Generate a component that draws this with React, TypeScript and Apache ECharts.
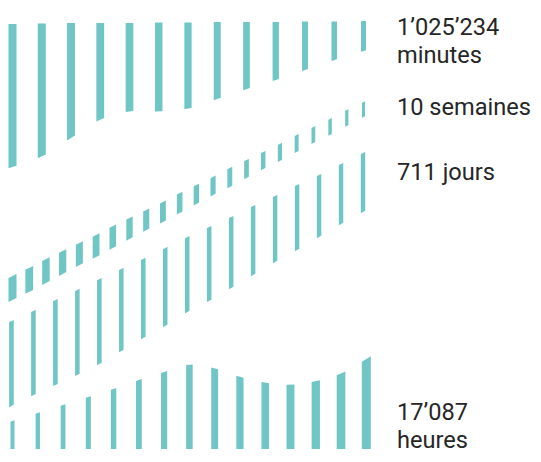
import React, { useEffect, useRef } from "react";
import * as echarts from "echarts";

// Heights (0 = common baseline of the "heures" bars)
const minutesTop = [425, 425.5, 426, 426, 426, 426.5, 426.5, 427, 427, 427, 427.5, 427.5, 428];
const minutesBottom = [282, 292, 311, 330, 338, 337.5, 340, 350, 360, 369, 379, 389, 398];

const semainesTop = [173, 181, 190, 198, 206, 214, 223, 231, 239, 247, 256, 264, 272, 281, 289, 297, 305, 314, 322, 330, 339, 347];
const semainesBottom = [149, 157, 166, 175, 184, 192, 201, 210, 219, 227, 236, 245, 254, 262, 271, 280, 288, 297, 306, 314, 323, 332];

const joursTop = [128, 138, 149, 159, 170, 180, 190, 201, 212, 222, 232, 243, 253, 264, 274, 285, 296];
const joursBottom = [43, 54, 64, 74, 85, 98, 111, 123, 137, 148, 161, 174, 187, 199, 212, 225, 237];

const heuresTop = [28, 36, 44, 52, 60, 69, 77, 85, 81, 72, 66, 64, 67.5, 75, 90];
const heuresBottom = [0, 0, 0, 0, 0, 0, 0, 0, 0, 0, 0, 0, 0, 0, 0];

const labelLines = ["1\u2019025\u2019234", "minutes", "10 semaines", "711 jours", "17\u2019087", "heures"];

// Layout / style (not data)
const BAR_COLOR = "#6fc6c5";
const TEXT_COLOR = "#262626";
const labelY = [27, 55, 107, 172, 412, 440];
const bandLayout = {
  minutes: { x0: 0, x1: 1, w0: 8, w1: 5, pow: 2 },
  semaines: { x0: 0, x1: 1, w0: 8, w1: 3, pow: 1 },
  jours: { x0: -0.003, x1: 0.9986, w0: 4.6, w1: 4.4, pow: 1 },
  heures: { x0: 0, x1: 1.008, w0: 4, w1: 9, pow: 1 },
};

function bandSeries(name: string, top: number[], bottom: number[], layout: any) {
  const n = top.length;
  const data = top.map((t, i) => [layout.x0 + ((layout.x1 - layout.x0) * i) / (n - 1), t, bottom[i]]);
  return {
    type: "custom",
    name,
    data,
    clip: false,
    silent: true,
    encode: { x: 0, y: [1, 2] },
    renderItem: (params: any, api: any) => {
      const i = params.dataIndex;
      const pt = (k: number, which: number) => api.coord([data[k][0], data[k][which]]);
      const t = n > 1 ? i / (n - 1) : 0;
      const w = layout.w0 + (layout.w1 - layout.w0) * Math.pow(t, layout.pow);
      const edge = (which: number) => {
        const c = pt(i, which);
        const prev = i > 0 ? pt(i - 1, which) : null;
        const next = i < n - 1 ? pt(i + 1, which) : null;
        const sl = prev ? (c[1] - prev[1]) / (c[0] - prev[0]) : (next[1] - c[1]) / (next[0] - c[0]);
        const sr = next ? (next[1] - c[1]) / (next[0] - c[0]) : sl;
        return [
          [c[0] - w / 2, c[1] - (sl * w) / 2],
          [c[0] + w / 2, c[1] + (sr * w) / 2],
        ];
      };
      const [tl, tr] = edge(1);
      const [bl, br] = edge(2);
      return {
        type: "polygon",
        shape: { points: [tl, tr, br, bl] },
        style: { fill: BAR_COLOR },
      };
    },
  };
}

export default function App() {
  const ref = useRef<HTMLDivElement>(null);
  useEffect(() => {
    if (!ref.current) return;
    const chart = echarts.init(ref.current, undefined, { renderer: "svg" });
    chart.setOption({
      animation: false,
      grid: { left: 12.5, width: 351, top: 0, height: 449 },
      xAxis: { type: "value", min: 0, max: 1, show: false },
      yAxis: { type: "value", min: 0, max: 449, show: false },
      series: [
        bandSeries("minutes", minutesTop, minutesBottom, bandLayout.minutes),
        bandSeries("semaines", semainesTop, semainesBottom, bandLayout.semaines),
        bandSeries("jours", joursTop, joursBottom, bandLayout.jours),
        bandSeries("heures", heuresTop, heuresBottom, bandLayout.heures),
      ],
      graphic: labelLines.map((txt, k) => ({
        type: "text",
        x: 397,
        y: labelY[k],
        silent: true,
        style: {
          text: txt,
          fontFamily: "Roboto",
          fontSize: 23.6,
          fill: TEXT_COLOR,
          verticalAlign: "middle",
          align: "left",
        },
      })),
    });
    return () => chart.dispose();
  }, []);
  return (
    <div
      ref={ref}
      style={{ position: "fixed", left: 0, top: 0, width: 541, height: 462, background: "#ffffff" }}
    />
  );
}
